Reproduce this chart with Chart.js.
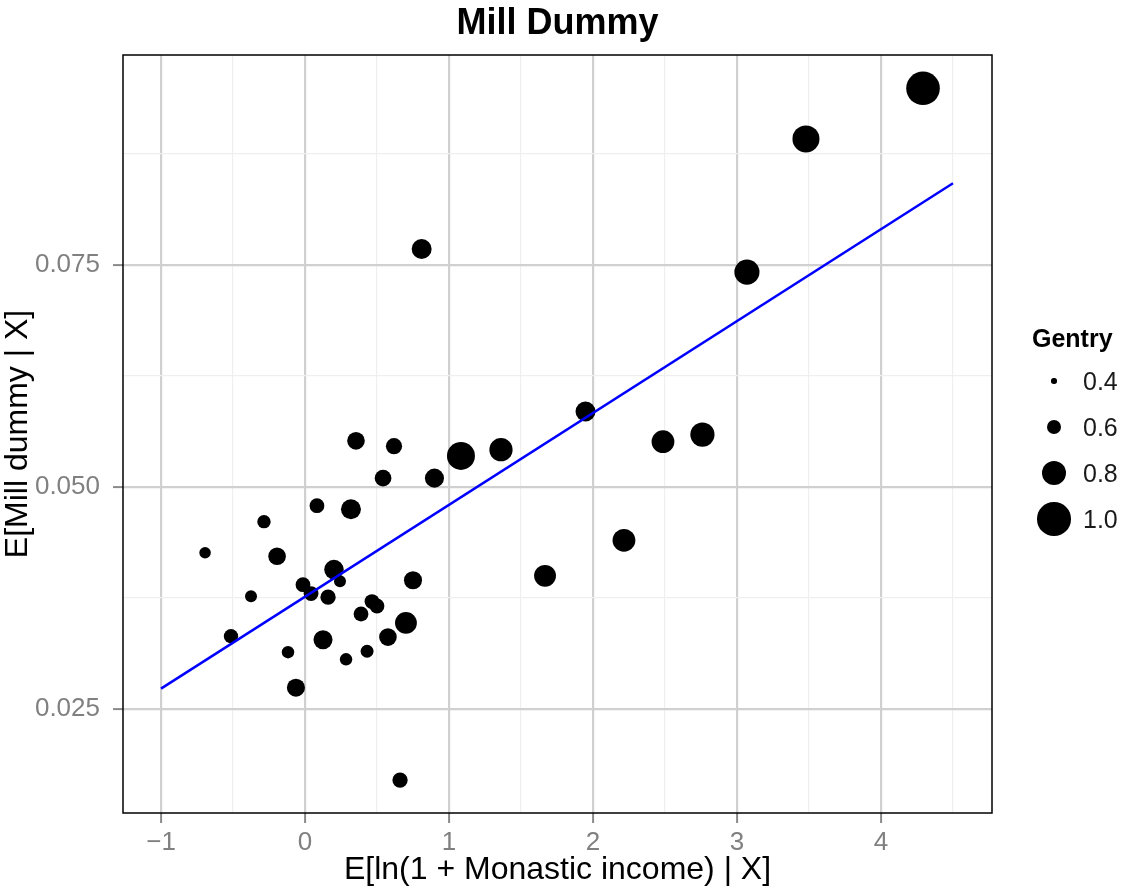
<!DOCTYPE html>
<html>
<head>
<meta charset="utf-8">
<title>Mill Dummy</title>
<script src="https://cdn.jsdelivr.net/npm/chart.js@4.4.1/dist/chart.umd.min.js"></script>
<style>
  body { margin: 0; background: #fff; font-family: "Liberation Sans", Arial, sans-serif; }
  #wrap { position: relative; width: 1121px; height: 890px; }
  #title { position: absolute; left: 123px; width: 869px; top: 0; height: 44px; line-height: 44px;
           text-align: center; font-weight: bold; font-size: 36px; color: #000; }
  #legend { position: absolute; left: 1032px; top: 318px; color: #000; }
  #legend .title { font-weight: bold; font-size: 25px; height: 40px; line-height: 40px; }
  #legend .item { position: relative; height: 46px; }
  #legend .dot { position: absolute; background: #000; border-radius: 50%; }
  #legend .lab { position: absolute; left: 51px; top: 0; font-size: 25px; line-height: 46px; color: #1a1a1a; }
</style>
</head>
<body>
<div id="wrap">
  <canvas id="chart" width="1121" height="890"></canvas>
  <div id="title">Mill Dummy</div>
  <div id="legend"></div>
</div>
<script>
const xVals = [-0.694, -0.514, -0.375, -0.285, -0.194, -0.118, -0.063, -0.014, 0.042, 0.083,
  0.125, 0.160, 0.201, 0.243, 0.285, 0.319, 0.354, 0.389, 0.431, 0.465,
  0.500, 0.542, 0.576, 0.618, 0.660, 0.701, 0.750, 0.810, 0.899, 1.083,
  1.361, 1.667, 1.948, 2.215, 2.486, 2.760, 3.069, 3.479, 4.292];
const yVals = [0.0426, 0.0332, 0.0377, 0.0461, 0.0422, 0.0314, 0.0274, 0.0390, 0.0380, 0.0479,
  0.0328, 0.0376, 0.0407, 0.0394, 0.0306, 0.0475, 0.0552, 0.0357, 0.0315, 0.0371,
  0.0366, 0.0510, 0.0331, 0.0546, 0.0170, 0.0347, 0.0395, 0.0768, 0.0510, 0.0535,
  0.0542, 0.0400, 0.0585, 0.0440, 0.0551, 0.0559, 0.0742, 0.0892, 0.0949];
const gentry = [0.53, 0.59, 0.54, 0.57, 0.66, 0.55, 0.67, 0.60, 0.60, 0.60,
  0.69, 0.61, 0.70, 0.54, 0.55, 0.71, 0.66, 0.60, 0.56, 0.60,
  0.60, 0.64, 0.66, 0.63, 0.61, 0.75, 0.67, 0.71, 0.69, 0.88,
  0.78, 0.75, 0.71, 0.77, 0.77, 0.80, 0.82, 0.86, 1.00];

// fitted line, endpoints
const fitX = [-1, 4.5];
const fitY = [0.0273, 0.0842];

const xMajor = [-1, 0, 1, 2, 3, 4];
const xMinor = [-0.5, 0.5, 1.5, 2.5, 3.5, 4.5];
const yMajor = [0.025, 0.050, 0.075];
const yMinor = [0.0375, 0.0625, 0.0875];
const legendValues = [0.4, 0.6, 0.8, 1.0];

const FONT = "'Liberation Sans', Arial, sans-serif";

function radiusFor(g) {
  return 2.7 + 23.5 * (g - 0.4);
}

function isIn(list, v) {
  return list.some((m) => Math.abs(m - v) < 1e-9);
}

function setTicks(major, minor) {
  return (scale) => {
    scale.ticks = [...major, ...minor].sort((a, b) => a - b).map((v) => ({ value: v }));
  };
}

function gridOpts(major) {
  return {
    color: (ctx) => (ctx.tick && isIn(major, ctx.tick.value) ? "#d0d0d0" : "#efefef"),
    lineWidth: (ctx) => (ctx.tick && isIn(major, ctx.tick.value) ? 2.2 : 1.2),
    tickColor: (ctx) => (ctx.tick && isIn(major, ctx.tick.value) ? "#8a8a8a" : "rgba(0,0,0,0)"),
    tickWidth: 2,
    tickLength: 10
  };
}

const panelBorder = {
  id: "panelBorder",
  afterDraw(chart) {
    const a = chart.chartArea;
    const ctx = chart.ctx;
    ctx.save();
    ctx.strokeStyle = "#000";
    ctx.lineWidth = 1.5;
    ctx.strokeRect(a.left, a.top, a.right - a.left, a.bottom - a.top);
    ctx.restore();
  }
};

const points = xVals.map((x, i) => ({ x, y: yVals[i] }));
const fitLine = fitX.map((x, i) => ({ x, y: fitY[i] }));

new Chart(document.getElementById("chart"), {
  type: "scatter",
  data: {
    datasets: [
      {
        type: "line",
        label: "fit",
        data: fitLine,
        borderColor: "#0000ff",
        borderWidth: 2.5,
        pointRadius: 0,
        fill: false
      },
      {
        label: "Gentry",
        data: points,
        backgroundColor: "#000",
        borderWidth: 0,
        pointRadius: (ctx) => radiusFor(gentry[ctx.dataIndex]),
        pointHoverRadius: (ctx) => radiusFor(gentry[ctx.dataIndex])
      }
    ]
  },
  options: {
    responsive: false,
    animation: false,
    devicePixelRatio: 1,
    layout: { padding: { left: 0, right: 129, top: 55, bottom: 0 } },
    plugins: {
      legend: { display: false },
      tooltip: { enabled: false },
      title: { display: false }
    },
    scales: {
      x: {
        type: "linear",
        min: -1.264,
        max: 4.771,
        afterBuildTicks: setTicks(xMajor, xMinor),
        afterFit: (scale) => { scale.height = 77; },
        grid: gridOpts(xMajor),
        border: { display: false },
        ticks: {
          autoSkip: false,
          maxRotation: 0,
          padding: 4,
          color: "#808080",
          font: { family: FONT, size: 26 },
          callback: (v) => (isIn(xMajor, v) ? (v < 0 ? "\u2212" + Math.abs(v) : String(v)) : "")
        },
        title: {
          display: true,
          text: "E[ln(1 + Monastic income) | X]",
          color: "#000",
          font: { family: FONT, size: 32, lineHeight: 1.15 },
          padding: { top: 0, bottom: 1 }
        }
      },
      y: {
        type: "linear",
        min: 0.01329,
        max: 0.09865,
        afterBuildTicks: setTicks(yMajor, yMinor),
        afterFit: (scale) => { scale.width = 123; },
        grid: gridOpts(yMajor),
        border: { display: false },
        ticks: {
          autoSkip: false,
          padding: 13,
          color: "#808080",
          font: { family: FONT, size: 26 },
          callback: (v) => (isIn(yMajor, v) ? v.toFixed(3) : "")
        },
        title: {
          display: true,
          text: "E[Mill dummy | X]",
          color: "#000",
          font: { family: FONT, size: 32, lineHeight: 1.15 },
          padding: { top: 0, bottom: 0 }
        }
      }
    }
  },
  plugins: [panelBorder]
});

function renderLegend() {
  const target = document.getElementById("legend");
  const rows = legendValues.map((v) => {
    const r = radiusFor(v);
    return `
      <div class="item">
        <div class="dot" style="left:${22 - r}px;top:${23 - r}px;width:${2 * r}px;height:${2 * r}px"></div>
        <div class="lab">${v.toFixed(1)}</div>
      </div>`;
  }).join("");
  target.innerHTML = `<div class="title">Gentry</div>${rows}`;
}

renderLegend();
</script>
</body>
</html>
